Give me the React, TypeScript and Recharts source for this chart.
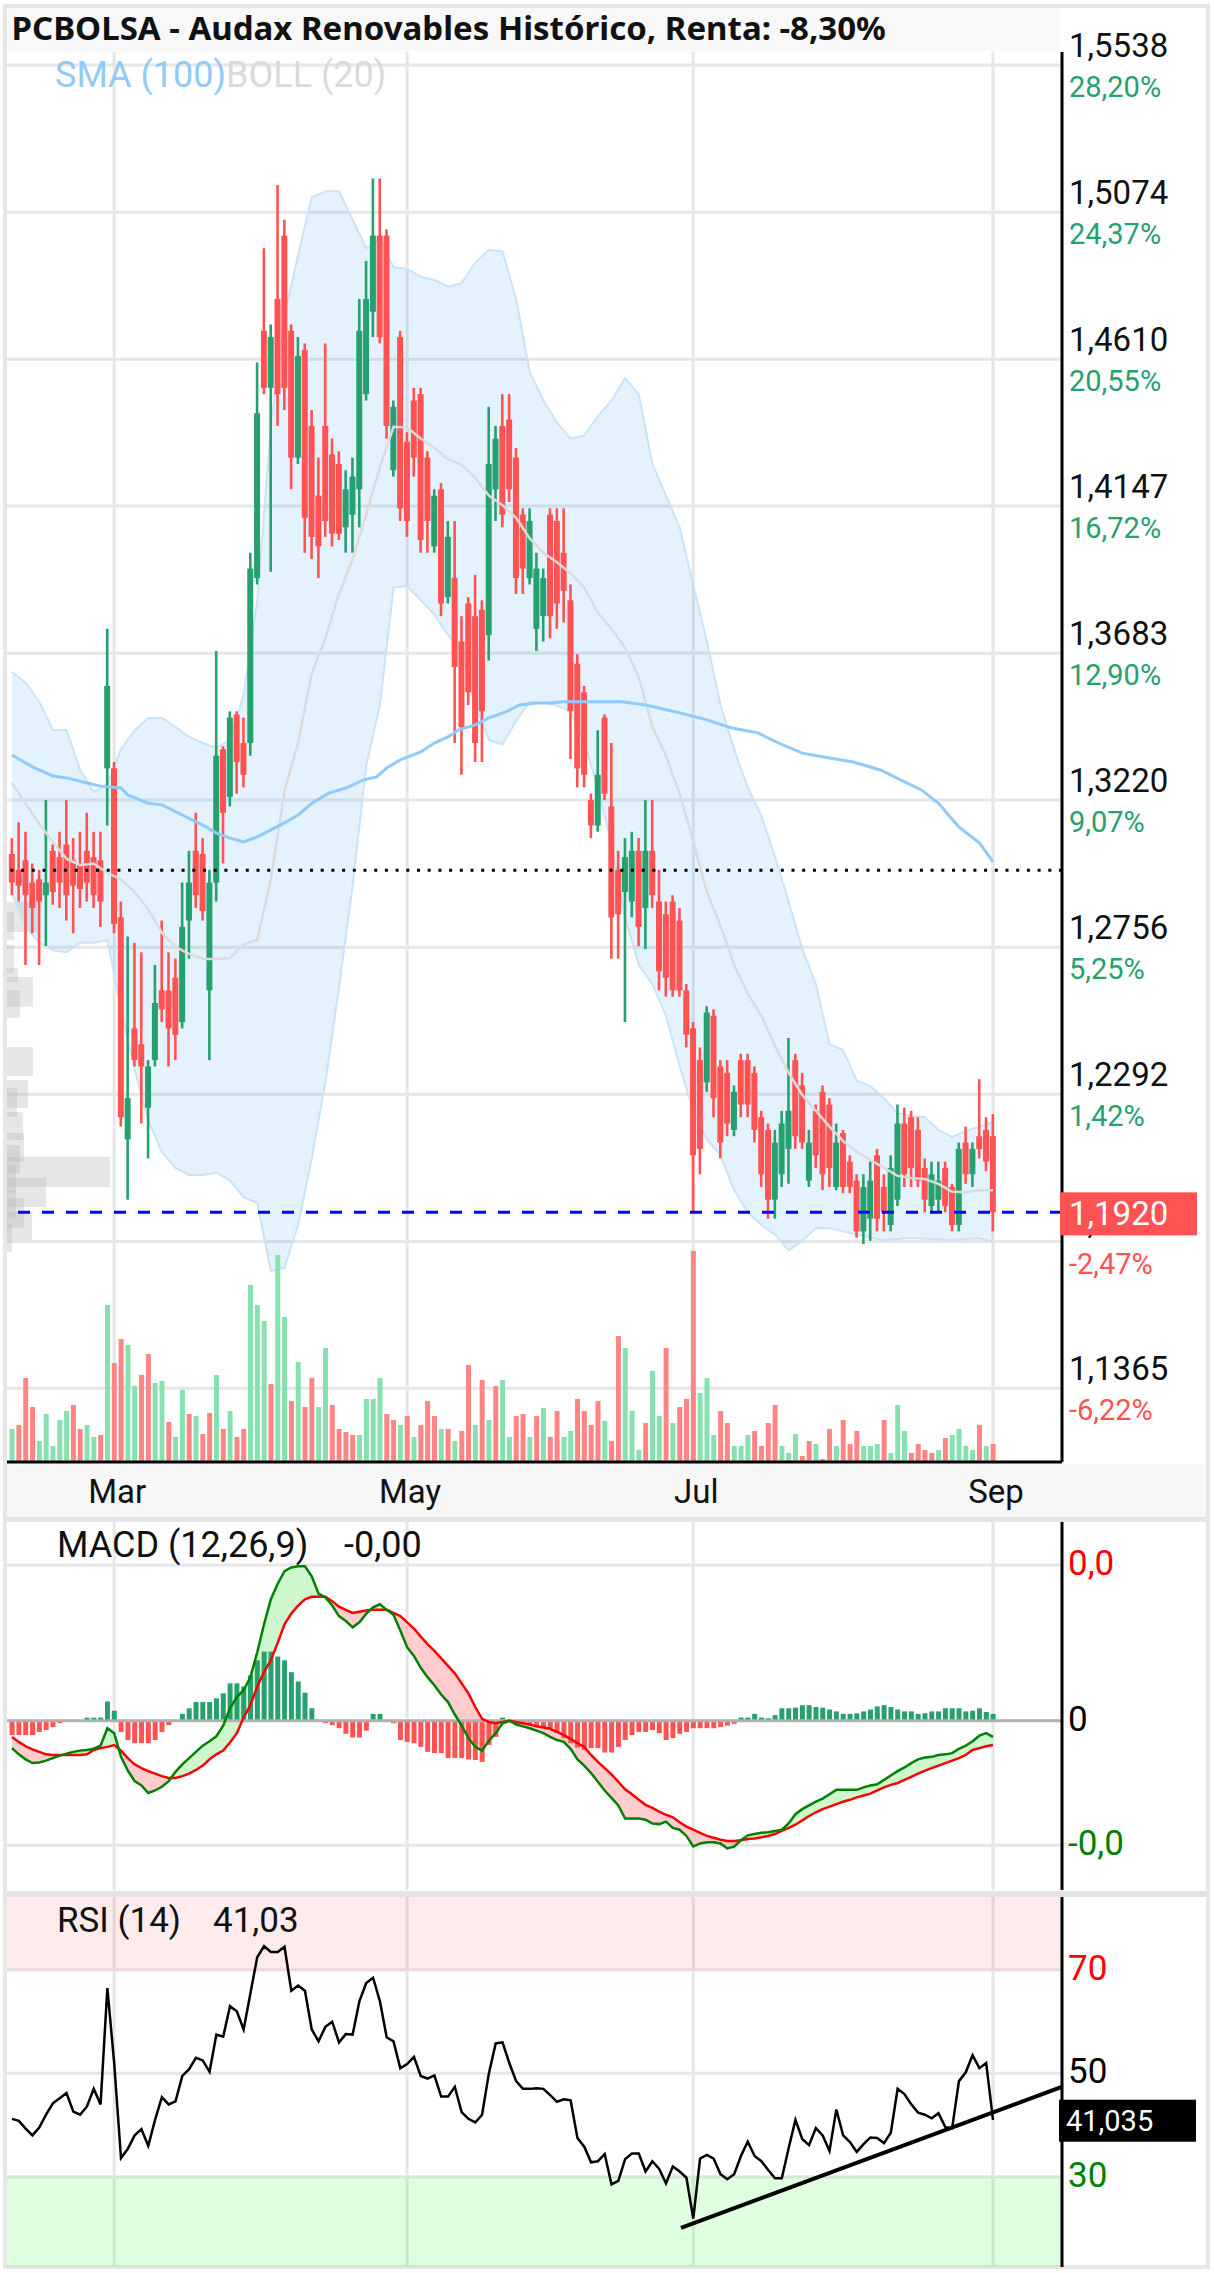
import React from "react";
import {
  ComposedChart,
  Bar,
  Line,
  Area,
  XAxis,
  YAxis,
  CartesianGrid,
  ReferenceLine,
  ReferenceArea,
  Cell,
} from "recharts";

// one entry per session, mid Feb -> 1 Sep
const opens = [
  1.305, 1.3, 1.303, 1.296, 1.297, 1.292, 1.306, 1.304, 1.308, 1.303,
  1.302, 1.306, 1.304, 1.303, 1.332, 1.332, 1.285, 1.215, 1.25, 1.245,
  1.225, 1.24, 1.262, 1.262, 1.266, 1.252, 1.284, 1.306, 1.305, 1.262,
  1.296, 1.338, 1.323, 1.349, 1.34, 1.34, 1.392, 1.47, 1.452, 1.48,
  1.5, 1.47, 1.43, 1.464, 1.44, 1.418, 1.44, 1.431, 1.428, 1.408,
  1.412, 1.42, 1.45, 1.476, 1.5, 1.5, 1.426, 1.468, 1.435, 1.448,
  1.45, 1.43, 1.402, 1.42, 1.386, 1.392, 1.372, 1.384, 1.38, 1.382,
  1.374, 1.42, 1.44, 1.442, 1.43, 1.412, 1.392, 1.376, 1.38, 1.412,
  1.41, 1.4, 1.385, 1.365, 1.356, 1.322, 1.314, 1.348, 1.32, 1.3,
  1.293, 1.29, 1.306, 1.288, 1.306, 1.29, 1.286, 1.29, 1.284, 1.262,
  1.25, 1.24, 1.233, 1.254, 1.238, 1.236, 1.218, 1.24, 1.24, 1.236,
  1.222, 1.218, 1.196, 1.204, 1.212, 1.24, 1.232, 1.202, 1.224, 1.23,
  1.226, 1.2, 1.217, 1.208, 1.202, 1.186, 1.19, 1.21, 1.2, 1.188,
  1.196, 1.22, 1.222, 1.218, 1.206, 1.194, 1.196, 1.206, 1.2, 1.188,
  1.214, 1.204, 1.216, 1.218, 1.216,
];
const highs = [
  1.31, 1.315, 1.312, 1.302, 1.3, 1.322, 1.308, 1.312, 1.322, 1.31,
  1.312, 1.318, 1.312, 1.312, 1.376, 1.334, 1.29, 1.279, 1.277, 1.274,
  1.24, 1.27, 1.284, 1.274, 1.272, 1.296, 1.306, 1.318, 1.31, 1.3,
  1.369, 1.339, 1.35, 1.35, 1.348, 1.4, 1.46, 1.496, 1.472, 1.516,
  1.505, 1.472, 1.468, 1.466, 1.445, 1.43, 1.466, 1.436, 1.432, 1.426,
  1.43, 1.48, 1.492, 1.518, 1.518, 1.502, 1.448, 1.47, 1.438, 1.452,
  1.452, 1.432, 1.42, 1.422, 1.41, 1.41, 1.38, 1.386, 1.393, 1.385,
  1.446, 1.44, 1.45, 1.45, 1.433, 1.414, 1.414, 1.4, 1.395, 1.414,
  1.414, 1.414, 1.39, 1.368, 1.358, 1.324, 1.344, 1.349, 1.34, 1.306,
  1.31, 1.312, 1.31, 1.322, 1.322, 1.3, 1.29, 1.292, 1.288, 1.264,
  1.252, 1.244, 1.257, 1.256, 1.24, 1.24, 1.232, 1.242, 1.242, 1.238,
  1.224, 1.22, 1.218, 1.224, 1.247, 1.242, 1.236, 1.218, 1.226, 1.232,
  1.228, 1.22, 1.218, 1.21, 1.204, 1.204, 1.208, 1.212, 1.204, 1.21,
  1.226, 1.225, 1.224, 1.222, 1.209, 1.208, 1.208, 1.208, 1.201, 1.214,
  1.219, 1.214, 1.234, 1.222, 1.223,
];
const lows = [
  1.292, 1.29, 1.27, 1.28, 1.27, 1.276, 1.289, 1.288, 1.284, 1.28,
  1.288, 1.29, 1.288, 1.282, 1.314, 1.28, 1.219, 1.196, 1.238, 1.22,
  1.209, 1.238, 1.252, 1.238, 1.24, 1.25, 1.272, 1.288, 1.284, 1.24,
  1.29, 1.302, 1.32, 1.324, 1.326, 1.336, 1.39, 1.45, 1.394, 1.44,
  1.445, 1.42, 1.428, 1.4, 1.398, 1.392, 1.405, 1.402, 1.404, 1.4,
  1.4, 1.408, 1.448, 1.468, 1.466, 1.436, 1.424, 1.41, 1.405, 1.424,
  1.4, 1.4, 1.4, 1.38, 1.384, 1.34, 1.33, 1.352, 1.334, 1.334,
  1.366, 1.41, 1.408, 1.416, 1.387, 1.387, 1.39, 1.369, 1.372, 1.373,
  1.376, 1.378, 1.335, 1.326, 1.326, 1.31, 1.312, 1.322, 1.272, 1.272,
  1.252, 1.285, 1.276, 1.275, 1.288, 1.262, 1.26, 1.26, 1.26, 1.244,
  1.192, 1.204, 1.23, 1.222, 1.209, 1.216, 1.216, 1.222, 1.222, 1.214,
  1.2, 1.19, 1.19, 1.2, 1.201, 1.212, 1.212, 1.2, 1.206, 1.199,
  1.2, 1.199, 1.198, 1.198, 1.184, 1.182, 1.183, 1.186, 1.186, 1.186,
  1.194, 1.2, 1.2, 1.2, 1.192, 1.192, 1.192, 1.192, 1.186, 1.186,
  1.201, 1.2, 1.209, 1.205, 1.186,
];
const closes = [
  1.296, 1.295, 1.292, 1.288, 1.29, 1.296, 1.293, 1.296, 1.292, 1.295,
  1.294, 1.296, 1.292, 1.29, 1.358, 1.283, 1.222, 1.228, 1.24, 1.238,
  1.238, 1.258, 1.256, 1.25, 1.248, 1.282, 1.296, 1.292, 1.287, 1.296,
  1.336, 1.318, 1.348, 1.334, 1.33, 1.395, 1.444, 1.452, 1.468, 1.45,
  1.452, 1.43, 1.462, 1.411, 1.405, 1.402, 1.41, 1.406, 1.406, 1.42,
  1.424, 1.47, 1.48, 1.5, 1.468, 1.44, 1.446, 1.414, 1.41, 1.43,
  1.404, 1.41, 1.418, 1.384, 1.405, 1.364, 1.345, 1.356, 1.34, 1.35,
  1.428, 1.436, 1.412, 1.42, 1.392, 1.395, 1.41, 1.395, 1.392, 1.38,
  1.384, 1.388, 1.35, 1.332, 1.33, 1.314, 1.33, 1.324, 1.285, 1.286,
  1.304, 1.306, 1.282, 1.306, 1.292, 1.268, 1.266, 1.262, 1.262, 1.248,
  1.21, 1.212, 1.255, 1.228, 1.214, 1.22, 1.23, 1.226, 1.226, 1.218,
  1.204, 1.196, 1.214, 1.22, 1.224, 1.216, 1.214, 1.214, 1.21, 1.204,
  1.206, 1.214, 1.2, 1.2, 1.186, 1.2, 1.202, 1.19, 1.192, 1.206,
  1.22, 1.204, 1.206, 1.202, 1.196, 1.204, 1.202, 1.194, 1.188, 1.212,
  1.204, 1.212, 1.212, 1.208, 1.192,
];
// volume (thousand shares) and bar colour (g = up, r = down)
const volumes = [
  33, 37, 84, 55, 21, 48, 16, 42, 51, 57,
  33, 37, 25, 27, 157, 99, 123, 117, 76, 87,
  108, 79, 81, 40, 25, 72, 48, 46, 28, 49,
  87, 33, 51, 25, 33, 177, 157, 141, 78, 207,
  145, 61, 100, 55, 84, 55, 114, 57, 33, 30,
  27, 27, 63, 63, 84, 48, 42, 37, 46, 25,
  37, 61, 46, 33, 33, 21, 31, 97, 37, 82,
  42, 76, 82, 25, 46, 48, 25, 46, 54, 25,
  51, 25, 31, 63, 51, 37, 61, 41, 21, 126,
  114, 51, 12, 39, 91, 46, 114, 39, 55, 63,
  211, 69, 84, 27, 51, 39, 16, 16, 27, 31,
  16, 39, 57, 16, 9, 28, 6, 21, 18, 3,
  33, 16, 42, 18, 31, 16, 16, 18, 42, 9,
  57, 31, 9, 18, 12, 9, 12, 24, 27, 33,
  16, 12, 37, 16, 18,
];
const volumeSide =
  "grrrgggggr" + "rggrgrrggr" + "rggrggrgrr" + "grgrrgggrg" + "grgrrggrrr" +
  "rggggrrgrg" + "rrrgrgrrgr" + "grggrrgrgr" + "rggrrrrgrr" + "gggrggrgrr" +
  "rgggrrgggr" + "rrrgggrrgr" + "rgrrrgggrg" + "ggrrrrgrgg" + "ggrgr";

// Bollinger (20) read every second session, SMA (100) read at marked sessions
const bollUpper = [
  1.3624, 1.359, 1.353, 1.3441, 1.3441, 1.3315, 1.3245, 1.327, 1.338, 1.344,
  1.3479, 1.348, 1.345, 1.3419, 1.34, 1.3385, 1.341, 1.355, 1.385, 1.44,
  1.475, 1.494, 1.512, 1.514, 1.514, 1.505, 1.496, 1.499, 1.49, 1.4895,
  1.487, 1.486, 1.484, 1.485, 1.4915, 1.4955, 1.495, 1.48, 1.457, 1.448,
  1.441, 1.436, 1.437, 1.443, 1.448, 1.455, 1.45, 1.428, 1.418, 1.408,
  1.39, 1.372, 1.352, 1.338, 1.326, 1.317, 1.304, 1.29, 1.275, 1.264,
  1.245, 1.2432, 1.2335, 1.2318, 1.228, 1.2232, 1.2225, 1.222, 1.218, 1.2158,
  1.2176, 1.219, 1.2205,
];
const bollLower = [
  1.2927, 1.282, 1.277, 1.2746, 1.274, 1.277, 1.277, 1.2778, 1.256, 1.237,
  1.221, 1.211, 1.206, 1.2038, 1.2038, 1.2045, 1.202, 1.1968, 1.195, 1.1735,
  1.1745, 1.188, 1.209, 1.233, 1.263, 1.295, 1.333, 1.352, 1.389, 1.3895,
  1.385, 1.3805, 1.374, 1.369, 1.352, 1.341, 1.3395, 1.347, 1.353, 1.3526,
  1.3518, 1.35, 1.34, 1.326, 1.308, 1.285, 1.27, 1.264, 1.254, 1.238,
  1.224, 1.215, 1.21, 1.199, 1.192, 1.188, 1.185, 1.18, 1.183, 1.187,
  1.187, 1.186, 1.185, 1.184, 1.1833, 1.1836, 1.1839, 1.1837, 1.1835, 1.1833,
  1.1836, 1.1838, 1.1827,
];
const bollMiddle = [
  1.3274, 1.321, 1.3145, 1.3088, 1.3035, 1.3015, 1.302, 1.299, 1.297, 1.293,
  1.2875, 1.2801, 1.2757, 1.2735, 1.272, 1.2718, 1.2722, 1.2765, 1.278, 1.297,
  1.325, 1.34, 1.362, 1.373, 1.387, 1.398, 1.412, 1.427, 1.4397, 1.4395,
  1.436, 1.433, 1.4295, 1.4278, 1.4236, 1.418, 1.415, 1.411, 1.4045, 1.4,
  1.397, 1.3935, 1.389, 1.381, 1.376, 1.37, 1.3608, 1.345, 1.336, 1.324,
  1.309, 1.293, 1.2825, 1.27, 1.261, 1.254, 1.2445, 1.236, 1.229, 1.224,
  1.219, 1.2145, 1.211, 1.2085, 1.206, 1.2035, 1.2028, 1.2025, 1.201, 1.1985,
  1.1983, 1.199, 1.199,
];
const sma100: [number, number][] = [
  [0, 1.3362], [3, 1.3325], [6, 1.3296], [8, 1.329], [11, 1.3274], [13, 1.3264],
  [16, 1.3258], [17, 1.3236], [20, 1.321], [22, 1.3205], [25, 1.3173], [28, 1.3141],
  [30, 1.3116], [32, 1.31], [34, 1.3088], [36, 1.3104], [38, 1.3126], [40, 1.3148],
  [42, 1.3173], [44, 1.321], [46.5, 1.3242], [49, 1.3258], [51.5, 1.3283], [53.5, 1.3293],
  [55, 1.3321], [57, 1.3347], [60, 1.3372], [62, 1.34], [64, 1.3419], [65.5, 1.3441],
  [68, 1.3457], [70, 1.3479], [72.5, 1.3498], [74.5, 1.352], [77, 1.3526], [79, 1.3526],
  [81, 1.353], [86, 1.353], [89.5, 1.353], [93, 1.352], [97.5, 1.3498], [102, 1.3473],
  [105.5, 1.3448], [109.5, 1.3432], [112.5, 1.34], [116, 1.3368], [120, 1.3353], [123.5, 1.334],
  [127.5, 1.3315], [130.5, 1.3283], [133.5, 1.3252], [136, 1.321], [139, 1.3135], [142, 1.3085],
  [144, 1.3025],
];

// MACD (12,26,9) in units of 0.0001
const macdLine = [
  -44, -54, -62, -68, -67, -64, -60, -56, -53, -50,
  -48, -47, -45, -40, -12, -20, -58, -80, -97, -104,
  -116, -112, -106, -97, -82, -70, -60, -50, -40, -33,
  -25, -8, 20, 38, 49, 70, 110, 155, 195, 220,
  240, 246, 248, 248, 232, 204, 198, 185, 168, 160,
  150, 158, 172, 182, 187, 178, 170, 145, 118, 104,
  85, 70, 57, 42, 30, 10, -8, -28, -42, -48,
  -32, -20, -4, 0, -6, -9, -12, -16, -20, -26,
  -31, -34, -45, -62, -72, -84, -98, -112, -124, -136,
  -157, -157, -157, -159, -165, -166, -162, -172, -175, -185,
  -202, -197, -195, -195, -197, -205, -202, -192, -184, -182,
  -180, -179, -177, -175, -165, -150, -142, -136, -130, -125,
  -118, -111, -111, -111, -111, -107, -104, -102, -95, -88,
  -81, -75, -68, -62, -59, -58, -55, -54, -52, -45,
  -40, -33, -24, -20, -26,
];
const signalLine = [
  -26, -34, -41, -46, -50, -54, -55, -55, -55, -55,
  -55, -54, -47, -44, -42, -39, -48, -60, -70, -76,
  -81, -85, -89, -92, -92, -89, -85, -79, -72, -62,
  -54, -48, -35, -20, 5, 25, 55, 78, 97, 125,
  155, 172, 185, 195, 199, 199, 199, 192, 183, 178,
  173, 175, 177, 178, 178, 178, 173, 168, 158, 148,
  135, 123, 112, 100, 88, 76, 60, 44, 22, 3,
  -2, -4, -2, 0, -2, -4, -6, -9, -11, -13,
  -18, -23, -29, -36, -42, -55, -66, -76, -86, -98,
  -110, -118, -127, -135, -140, -146, -151, -155, -163, -170,
  -175, -180, -185, -188, -191, -193, -193, -192, -190, -189,
  -187, -185, -182, -177, -172, -167, -160, -153, -147, -142,
  -138, -134, -130, -127, -123, -120, -117, -112, -107, -103,
  -100, -95, -90, -85, -80, -76, -72, -68, -64, -60,
  -55, -47, -44, -41, -39,
];
const macdHist = [
  -23, -23, -23, -23, -18, -15, -10, -4, -2, -1,
  1, 5, 5, 5, 31, 16, -18, -31, -36, -36,
  -36, -31, -18, -7, -1, 11, 20, 30, 30, 30,
  36, 44, 60, 60, 55, 73, 97, 111, 111, 103,
  97, 78, 63, 45, 20, 2, -4, -7, -12, -21,
  -27, -27, -16, 11, 11, 0, -4, -31, -34, -36,
  -42, -50, -52, -52, -60, -60, -60, -62, -63, -66,
  -39, -26, 5, 1, -2, -4, -7, -10, -12, -12,
  -19, -28, -36, -43, -47, -44, -44, -51, -51, -42,
  -31, -23, -18, -18, -15, -20, -31, -28, -21, -18,
  -12, -12, -12, -12, -10, -8, -5, 5, 5, 11,
  5, 4, 9, 20, 20, 21, 25, 25, 22, 21,
  18, 15, 11, 11, 12, 15, 18, 23, 25, 22,
  18, 15, 15, 11, 12, 15, 15, 20, 20, 20,
  15, 16, 20, 14, 11,
];
const rsiValues = [
  41.2, 40.8, 39.3, 38, 39.5, 42, 44.2, 45.2, 46.2, 42.6,
  42, 43.6, 47, 44, 66.5, 52, 33.6, 35.4, 38, 39.2,
  36, 41, 45.4, 44, 44.6, 49.5, 50.8, 53, 52.5, 50.3,
  57.5, 57.1, 63, 62, 58.5, 65.5, 72.5, 74.6, 73.5, 73.5,
  74.5, 66, 67, 66, 58.5, 56.2, 59, 60, 56, 57.6,
  57.5, 64, 67.5, 68.5, 64, 57, 56.2, 51, 51.8, 53.2,
  49.5, 49, 49.6, 45.5, 45.5, 47.4, 42.5, 41.2, 40.5, 42,
  50, 55.8, 56, 52, 48.5, 47, 47, 47.1, 47, 45.8,
  44.5, 45, 44.8, 37.5, 35.8, 32.8, 33, 34.4, 28.5, 29.2,
  33.4, 34.5, 34.5, 31, 33, 31.5, 28.7, 32, 31, 29.8,
  21.9, 33.5, 34.2, 33.5, 30.5, 29.5, 30.5, 34, 36.8, 34,
  33, 31.3, 29.7, 29.7, 35.5, 41, 37.3, 36.1, 39.4, 38,
  35, 43, 38, 36.7, 34.8, 36.3, 37.6, 37.5, 36.5, 38.5,
  47, 46, 44, 42.4, 42, 41.3, 42.3, 39.6, 39.4, 48.5,
  50.2, 53.5, 51, 52, 41,
];
const rsiTrend = [{ x: 98.2, y: 20.1 }, { x: 154.1, y: 47.4 }];

// volume at price (left histogram), volume in px-equivalent units of the plot width
const profileLow = [1.2804, 1.2779, 1.2675, 1.2646, 1.2568, 1.2533, 1.235, 1.2249, 1.2221, 1.2148, 1.2079, 1.2044, 1.2, 1.1981, 1.1937, 1.1902, 1.1871, 1.1833, 1.1795];
const profileHigh = [1.2899, 1.2867, 1.2763, 1.2691, 1.2662, 1.2621, 1.2441, 1.2337, 1.2312, 1.2236, 1.217, 1.2132, 1.2095, 1.2069, 1.2028, 1.199, 1.1965, 1.1921, 1.1886];
const profileVolume = [30, 7, 7, 11, 26, 13, 26, 21, 10, 16, 17, 13, 103, 9, 39, 9, 17, 25, 5];

const priceTicks = [1.5538, 1.5074, 1.461, 1.4147, 1.3683, 1.322, 1.2756, 1.2292, 1.1828, 1.1365];
const priceLabels = ["1,5538", "1,5074", "1,4610", "1,4147", "1,3683", "1,3220", "1,2756", "1,2292", "1,1828", "1,1365"];
const pctLabels = ["28,20%", "24,37%", "20,55%", "16,72%", "12,90%", "9,07%", "5,25%", "1,42%", "-2,47%", "-6,22%"];
const monthTicks = [15, 58, 100, 144];
const monthLabels = ["Mar", "May", "Jul", "Sep"];
const lastPrice = 1.192;
const startPrice = 1.2999;
const macdTicks = [250, 0, -200];
const macdTickLabels = ["0,0", "0", "-0,0"];
const rsiTicks = [70, 50, 30];
const rsiLast = 41.035;

const UP = "#26a06f";
const DOWN = "#ff5252";
const FONT = "Roboto, sans-serif";
const X_DOMAIN: [number, number] = [-0.734, 154.128];
const PLOT_WIDTH = 1055;
const PRICE_DOMAIN: [number, number] = [1.113273, 1.557902];

const rows = opens.map((o, i) => ({
  i,
  o,
  h: highs[i],
  l: lows[i],
  c: closes[i],
  vol: volumes[i],
  volUp: volumeSide[i] === "g",
}));
const bandRows = bollUpper.map((u, k) => ({ i: k * 2, up: u, lo: bollLower[k], mid: bollMiddle[k] }));
const smaRows = sma100.map(([i, v]) => ({ i, v }));
const macdRows = macdLine.map((m, i) => ({ i, m, s: signalLine[i], hist: macdHist[i] }));
const rsiRows = rsiValues.map((r, i) => ({ i, r }));
const sessionsPerUnit = (X_DOMAIN[1] - X_DOMAIN[0]) / PLOT_WIDTH;

function Candle(props: any) {
  const { x, y, width, height, payload } = props;
  if (x == null || y == null || !payload) return null;
  const top = Math.min(y, y + height);
  const bottom = Math.max(y, y + height);
  const span = payload.h - payload.l;
  const k = span > 0 ? (bottom - top) / span : 0;
  const py = (v: number) => top + (payload.h - v) * k;
  const fill = payload.c >= payload.o ? UP : DOWN;
  const cx = x + width / 2;
  const bt = py(Math.max(payload.o, payload.c));
  const bb = py(Math.min(payload.o, payload.c));
  return (
    <g>
      <rect x={cx - 1.3} y={top} width={2.6} height={Math.max(bottom - top, 1)} fill={fill} />
      <rect x={cx - 3} y={bt} width={6} height={Math.max(bb - bt, 2)} fill={fill} />
    </g>
  );
}

const PriceTick = (p: any) => {
  const v = p.payload.value;
  if (v === lastPrice) {
    return (
      <g>
        <rect x={1060} y={p.y - 20} width={137} height={43} fill="#ff5252" />
        <text x={1069} y={p.y + 13} fontSize={33} fill="#fff" fontFamily={FONT}>
          1,1920
        </text>
      </g>
    );
  }
  const k = priceTicks.indexOf(v);
  if (k < 0) return null;
  const neg = pctLabels[k].startsWith("-");
  return (
    <g>
      <text x={1069} y={p.y - 8} fontSize={33} fill="#111" fontFamily={FONT}>
        {priceLabels[k]}
      </text>
      <text x={1069} y={p.y + 32} fontSize={29} fill={neg ? DOWN : UP} fontFamily={FONT}>
        {pctLabels[k]}
      </text>
    </g>
  );
};

const MonthTick = (p: any) => {
  const k = monthTicks.indexOf(p.payload.value);
  return (
    <text x={p.x + 3} y={1503} textAnchor="middle" fontSize={33} fill="#111" fontFamily={FONT}>
      {monthLabels[k]}
    </text>
  );
};

const MacdTick = (p: any) => {
  const k = macdTicks.indexOf(p.payload.value);
  const colors = ["#ff0000", "#000", "#008000"];
  return (
    <text x={1068} y={p.y + 10} fontSize={35} fill={colors[k]} fontFamily={FONT}>
      {macdTickLabels[k]}
    </text>
  );
};

const RsiTick = (p: any) => {
  const v = p.payload.value;
  if (v === rsiLast) {
    return (
      <g>
        <rect x={1059} y={p.y - 20} width={137} height={42} fill="#000" />
        <text x={1066} y={p.y + 11} fontSize={29} fill="#fff" fontFamily={FONT}>
          41,035
        </text>
      </g>
    );
  }
  const colors: Record<number, string> = { 70: "#ff0000", 50: "#000", 30: "#008000" };
  return (
    <text x={1068} y={p.y + 10} fontSize={35} fill={colors[v]} fontFamily={FONT}>
      {String(v)}
    </text>
  );
};

function PriceChart() {
  return (
    <ComposedChart width={1214} height={1517} data={rows} margin={{ top: 52, right: 0, bottom: 0, left: 7 }}>
      <CartesianGrid
        xAxisId="x"
        yAxisId="p"
        stroke="#e6e6e6"
        strokeWidth={3}
        horizontalValues={priceTicks}
        verticalValues={monthTicks}
      />
      <XAxis
        xAxisId="x"
        type="number"
        dataKey="i"
        domain={X_DOMAIN}
        allowDataOverflow
        ticks={monthTicks}
        interval={0}
        tickLine={false}
        axisLine={{ stroke: "#000", strokeWidth: 3 }}
        height={55}
        tick={MonthTick}
      />
      <XAxis xAxisId="xv" type="number" dataKey="i" domain={X_DOMAIN} allowDataOverflow hide />
      <YAxis
        yAxisId="p"
        orientation="right"
        type="number"
        domain={PRICE_DOMAIN}
        allowDataOverflow
        ticks={[...priceTicks, lastPrice]}
        interval={0}
        tickLine={false}
        axisLine={{ stroke: "#000", strokeWidth: 3 }}
        width={152}
        tick={PriceTick}
      />
      <YAxis yAxisId="v" type="number" domain={[0, 1410]} allowDataOverflow hide />
      {profileVolume.map((v, k) => (
        <ReferenceArea
          key={k}
          xAxisId="x"
          yAxisId="p"
          x1={X_DOMAIN[0]}
          x2={X_DOMAIN[0] + v * sessionsPerUnit}
          y1={profileLow[k]}
          y2={profileHigh[k]}
          fill="#b8b8b8"
          fillOpacity={0.35}
          stroke="none"
        />
      ))}
      <Area
        xAxisId="x"
        yAxisId="p"
        data={bandRows}
        dataKey={(d: any) => [d.lo, d.up]}
        type="linear"
        fill="#2196f3"
        fillOpacity={0.12}
        stroke="#c9e3f8"
        strokeWidth={2}
        dot={false}
        activeDot={false}
        isAnimationActive={false}
      />
      <Line
        xAxisId="x"
        yAxisId="p"
        data={bandRows}
        dataKey="mid"
        type="linear"
        stroke="#dcdcdc"
        strokeWidth={2.5}
        dot={false}
        activeDot={false}
        isAnimationActive={false}
      />
      <Bar xAxisId="xv" yAxisId="v" dataKey="vol" barSize={5} isAnimationActive={false}>
        {rows.map((r, k) => (
          <Cell key={k} fill={r.volUp ? "#86e1ae" : "#ff8484"} />
        ))}
      </Bar>
      <Bar
        xAxisId="x"
        yAxisId="p"
        dataKey={(d: any) => [d.l, d.h]}
        barSize={6}
        shape={Candle}
        isAnimationActive={false}
      />
      <Line
        xAxisId="x"
        yAxisId="p"
        data={smaRows}
        dataKey="v"
        type="linear"
        stroke="#90caf9"
        strokeWidth={3}
        dot={false}
        activeDot={false}
        isAnimationActive={false}
      />
      <ReferenceLine xAxisId="x" yAxisId="p" y={startPrice} stroke="#000" strokeWidth={3} strokeDasharray="3 7.7" />
      <ReferenceLine xAxisId="x" yAxisId="p" y={lastPrice} stroke="#0000ff" strokeWidth={3} strokeDasharray="12 12" />
    </ComposedChart>
  );
}

function MacdChart() {
  return (
    <ComposedChart width={1214} height={368} data={macdRows} margin={{ top: 0, right: 0, bottom: 0, left: 7 }}>
      <CartesianGrid stroke="#e6e6e6" strokeWidth={3} horizontalValues={[250, -200]} verticalValues={monthTicks} />
      <XAxis type="number" dataKey="i" domain={X_DOMAIN} allowDataOverflow ticks={monthTicks} hide />
      <YAxis
        orientation="right"
        type="number"
        domain={[-271.8, 319.1]}
        allowDataOverflow
        ticks={macdTicks}
        interval={0}
        tickLine={false}
        axisLine={{ stroke: "#000", strokeWidth: 3 }}
        width={152}
        tick={MacdTick}
      />
      <Bar dataKey="hist" barSize={5} isAnimationActive={false}>
        {macdRows.map((r, k) => (
          <Cell key={k} fill={r.hist >= 0 ? UP : DOWN} />
        ))}
      </Bar>
      <ReferenceLine y={0} stroke="#b0b0b0" strokeWidth={3} />
      <Area
        dataKey={(d: any) => [d.s, Math.max(d.m, d.s)]}
        type="linear"
        fill="#b8f5b8"
        fillOpacity={0.7}
        stroke="none"
        dot={false}
        activeDot={false}
        isAnimationActive={false}
      />
      <Area
        dataKey={(d: any) => [Math.min(d.m, d.s), d.s]}
        type="linear"
        fill="#ffb8b8"
        fillOpacity={0.7}
        stroke="none"
        dot={false}
        activeDot={false}
        isAnimationActive={false}
      />
      <Line dataKey="s" type="linear" stroke="#ff0000" strokeWidth={2.5} dot={false} activeDot={false} isAnimationActive={false} />
      <Line dataKey="m" type="linear" stroke="#008000" strokeWidth={2.5} dot={false} activeDot={false} isAnimationActive={false} />
    </ComposedChart>
  );
}

function RsiChart() {
  return (
    <ComposedChart width={1214} height={370} data={rsiRows} margin={{ top: 0, right: 0, bottom: 0, left: 7 }}>
      <CartesianGrid stroke="#e6e6e6" strokeWidth={3} horizontalValues={rsiTicks} verticalValues={monthTicks} />
      <XAxis type="number" dataKey="i" domain={X_DOMAIN} allowDataOverflow ticks={monthTicks} hide />
      <YAxis
        orientation="right"
        type="number"
        domain={[12.53, 84.13]}
        allowDataOverflow
        ticks={[...rsiTicks, rsiLast]}
        interval={0}
        tickLine={false}
        axisLine={{ stroke: "#000", strokeWidth: 3 }}
        width={152}
        tick={RsiTick}
      />
      <ReferenceArea y1={70} y2={84.13} fill="#ff0000" fillOpacity={0.08} stroke="none" />
      <ReferenceArea y1={12.53} y2={30} fill="#00ff00" fillOpacity={0.12} stroke="none" />
      <Line dataKey="r" type="linear" stroke="#000" strokeWidth={2.5} dot={false} activeDot={false} isAnimationActive={false} />
      <ReferenceLine segment={rsiTrend} stroke="#000" strokeWidth={4} ifOverflow="visible" />
    </ComposedChart>
  );
}

export default function App() {
  return (
    <div style={{ position: "absolute", left: 0, top: 0, width: 1214, height: 2273, background: "#fff", overflow: "hidden" }}>
      <svg width={1214} height={2273} style={{ position: "absolute", left: 0, top: 0 }}>
        <rect x={7} y={8} width={1053} height={43} fill="#f8f8f8" />
        <rect x={7} y={1464} width={1200} height={53} fill="#f7f7f7" />
        <rect x={5} y={1517} width={1204} height={5} fill="#e4e4e4" />
        <rect x={5} y={1891} width={1204} height={6} fill="#e4e4e4" />
        <rect x={5} y={6} width={1203} height={2261} fill="none" stroke="#e6e6e6" strokeWidth={4} />
      </svg>
      <div style={{ position: "absolute", left: 0, top: 0 }}>
        <PriceChart />
      </div>
      <div style={{ position: "absolute", left: 0, top: 1522 }}>
        <MacdChart />
      </div>
      <div style={{ position: "absolute", left: 0, top: 1897 }}>
        <RsiChart />
      </div>
      <svg width={1214} height={2273} style={{ position: "absolute", left: 0, top: 0, pointerEvents: "none" }}>
        <text x={11.5} y={40} fontSize={33} fontWeight={700} fill="#111" fontFamily="'Noto Sans', sans-serif">
          PCBOLSA - Audax Renovables Histórico, Renta: -8,30%
        </text>
        <text x={55} y={87} fontSize={36} fontFamily={FONT}>
          <tspan fill="#90caf9">SMA (100)</tspan>
          <tspan fill="#dadada">BOLL (20)</tspan>
        </text>
        <text x={57} y={1557} fontSize={36} fill="#111" fontFamily={FONT}>
          MACD (12,26,9)
        </text>
        <text x={344} y={1557} fontSize={36} fill="#111" fontFamily={FONT}>
          -0,00
        </text>
        <text x={57} y={1932} fontSize={35} fill="#111" fontFamily={FONT}>
          RSI (14)
        </text>
        <text x={213} y={1932} fontSize={35} fill="#111" fontFamily={FONT}>
          41,03
        </text>
      </svg>
    </div>
  );
}
